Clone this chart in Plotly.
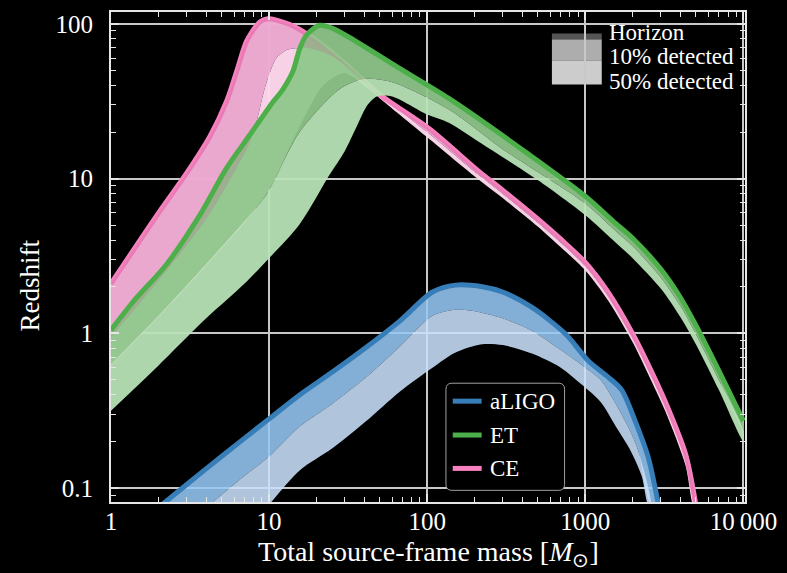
import plotly.graph_objects as go

# ---------------- data ----------------
# aLIGO
aligo_h_m = [2.1, 3, 5, 10, 15.6, 25, 41, 67, 108, 151, 223, 300, 460, 750, 1050, 1400, 1700, 2070, 2500, 2900]
aligo_h_z = [0.078, 0.105, 0.16, 0.28, 0.40, 0.56, 0.81, 1.2, 1.85, 2.05, 2.0, 1.85, 1.47, 0.99, 0.66, 0.52, 0.43, 0.27, 0.158, 0.078]
aligo_10_m = [4.2, 7, 10, 15.6, 25, 41, 67, 108, 150, 192, 300, 460, 700, 940, 1250, 1560, 1900, 2160, 2600]
aligo_10_z = [0.078, 0.12, 0.16, 0.25, 0.35, 0.52, 0.82, 1.3, 1.42, 1.4, 1.25, 1.04, 0.78, 0.63, 0.5, 0.35, 0.24, 0.175, 0.078]
aligo_50_m = [10, 15.6, 25, 41, 67, 108, 150, 222, 300, 460, 700, 940, 1250, 1560, 1900, 2270, 2500]
aligo_50_z = [0.078, 0.13, 0.18, 0.27, 0.42, 0.6, 0.75, 0.85, 0.84, 0.74, 0.6, 0.47, 0.36, 0.25, 0.18, 0.12, 0.078]

# ET
et_h_m = [1, 1.38, 2.25, 3.66, 5.38, 7.56, 10.6, 11.95, 14.1, 15.6, 17.2, 20.9, 25, 32, 66, 137, 441, 1000, 1500, 2000, 3000, 4000, 5000, 7000, 10000]
et_h_z = [1.05, 1.6, 2.8, 5.85, 11.7, 19.2, 31.4, 36.5, 49, 69, 84.5, 98, 94, 82, 52, 33, 14.3, 7.7, 5.3, 4.1, 2.6, 1.7, 1.13, 0.573, 0.272]
et_10_m = [1, 2, 4, 7, 9.7, 15.6, 28, 40, 60, 137, 300, 1000, 1500, 2000, 3000, 4000, 5000, 7000, 10000]
et_10_z = [0.63, 1.3, 2.8, 5.3, 8, 20, 38, 44, 42, 28, 15.5, 6.9, 4.75, 3.65, 2.3, 1.5, 0.99, 0.5, 0.235]
et_50_m = [1, 2, 4, 7, 10, 15.6, 24, 30, 36, 42, 48, 60, 100, 137, 200, 500, 1000, 1500, 2000, 3000, 4000, 5000, 7000, 10000]
et_50_z = [0.316, 0.62, 1.25, 2.1, 3.06, 5.07, 10.5, 15, 22, 30, 34, 34, 26, 23, 18, 9.8, 5.8, 4.0, 3.05, 1.95, 1.27, 0.85, 0.43, 0.2]

# CE
ce_h_m = [1, 2, 3, 4.23, 5.41, 6.26, 7.23, 8.74, 9.8, 12.9, 15.6, 20, 30, 50, 103, 213, 300, 500, 700, 1000, 1400, 2000, 2600, 3222, 4306, 5000]
ce_h_z = [2.1, 6.0, 10.8, 18.8, 32, 50, 78, 103, 108, 101, 92, 78, 56, 35, 21, 11.1, 8.43, 5.49, 4.06, 2.87, 1.83, 0.987, 0.577, 0.357, 0.166, 0.078]
ce_10_m = [1, 2, 4, 6, 7.5, 8.3, 9.5, 11.1, 13, 15.6, 18, 25, 52, 100, 213, 300, 500, 700, 1000, 1400, 2000, 2600, 3222, 4306, 4900]
ce_10_z = [0.95, 2.2, 5.5, 11, 17, 23, 40, 60, 68, 70, 70, 62, 34, 20, 10.5, 8.0, 5.2, 3.85, 2.72, 1.73, 0.93, 0.54, 0.335, 0.155, 0.078]
ce_50_m = [1, 2, 4, 7, 10, 15, 22, 30, 40, 52, 100, 213, 300, 500, 700, 1000, 1400, 2000, 2600, 3222, 4306, 4800]
ce_50_z = [0.62, 1.28, 2.75, 5.2, 8.5, 20, 40, 48, 40, 32, 18.5, 9.8, 7.5, 4.9, 3.6, 2.55, 1.62, 0.87, 0.5, 0.31, 0.14, 0.078]

x_tickvals = [1, 10, 100, 1000, 10000]
x_ticktext = ["1", "10", "100", "1000", "10\u2009000"]
y_tickvals = [0.1, 1, 10, 100]
y_ticktext = ["0.1", "1", "10", "100"]

detectors = ["aLIGO", "ET", "CE"]
line_colors = {"aLIGO": "#377eb8", "ET": "#4daf4a", "CE": "#f781bf"}
band1_colors = {"aLIGO": "rgba(149,199,245,0.88)", "ET": "rgba(142,198,138,0.94)", "CE": "rgba(255,194,232,0.98)"}
band2_colors = {"aLIGO": "rgba(200,224,251,0.88)", "ET": "rgba(185,227,183,0.94)", "CE": "rgba(255,216,236,0.97)"}
ce_overlay = "rgba(190,105,150,0.26)"

curves = {
    "aLIGO": ((aligo_h_m, aligo_h_z), (aligo_10_m, aligo_10_z), (aligo_50_m, aligo_50_z)),
    "ET": ((et_h_m, et_h_z), (et_10_m, et_10_z), (et_50_m, et_50_z)),
    "CE": ((ce_h_m, ce_h_z), (ce_10_m, ce_10_z), (ce_50_m, ce_50_z)),
}

FONT = "Liberation Serif"
W, H = 787, 573
L, R, T, B = 110.7, 40.3, 10, 71.3
PW, PH = W - L - R, H - T - B


def px(x):
    return (x - L) / PW


def py(y):
    return (H - B - y) / PH


fig = go.Figure()


def band(upper, lower, color):
    (mu, zu), (ml, zl) = upper, lower
    fig.add_trace(go.Scatter(
        x=list(mu) + list(ml)[::-1], y=list(zu) + list(zl)[::-1],
        mode="lines", fill="toself", fillcolor=color,
        line=dict(width=0, shape="spline", smoothing=0.8),
        hoverinfo="skip", showlegend=False))


def hline(curve, color):
    m, z = curve
    fig.add_trace(go.Scatter(
        x=m, y=z, mode="lines",
        line=dict(color=color, width=5, shape="spline", smoothing=0.8),
        hoverinfo="skip", showlegend=False))


# CE (bottom layer)
band(curves["CE"][0], curves["CE"][1], band1_colors["CE"])
band(curves["CE"][1], curves["CE"][2], band2_colors["CE"])
hline(curves["CE"][0], line_colors["CE"])
# ET
band(curves["ET"][0], curves["ET"][1], band1_colors["ET"])
band(curves["ET"][1], curves["ET"][2], band2_colors["ET"])
# faint CE tint where the two detectors' bands overlap
band(curves["CE"][0], curves["CE"][1], ce_overlay)
hline(curves["ET"][0], line_colors["ET"])
# aLIGO
band(curves["aLIGO"][0], curves["aLIGO"][1], band1_colors["aLIGO"])
band(curves["aLIGO"][1], curves["aLIGO"][2], band2_colors["aLIGO"])
hline(curves["aLIGO"][0], line_colors["aLIGO"])

# invisible helpers so the mirrored (top / right) axes get drawn
fig.add_trace(go.Scatter(x=[], y=[], xaxis="x2", yaxis="y", showlegend=False, hoverinfo="skip"))
fig.add_trace(go.Scatter(x=[], y=[], xaxis="x", yaxis="y2", showlegend=False, hoverinfo="skip"))

TICKC = "#e6e6e6"
minor_ticks = dict(ticks="inside", ticklen=5, dtick="D1", tickcolor=TICKC, tickwidth=1.2, showgrid=False)
axis_common = dict(
    type="log", showgrid=True, gridcolor="#c8c8c8", gridwidth=2,
    showline=True, linecolor=TICKC, linewidth=2, mirror=True,
    ticks="inside", ticklen=8, tickcolor=TICKC, tickwidth=1.5,
    minor=minor_ticks, zeroline=False,
)
mirror_common = dict(
    type="log", showgrid=False, showline=False, zeroline=False, showticklabels=False,
    ticks="inside", ticklen=8, tickcolor=TICKC, tickwidth=1.5, minor=minor_ticks,
)

XR = [0, 4.01]
YR = [-1.09, 2.077]
fig.update_layout(
    xaxis=dict(range=XR, tickvals=x_tickvals, ticktext=x_ticktext,
               tickfont=dict(family=FONT, size=25, color="white"),
               ticklabelstandoff=-4, **axis_common),
    yaxis=dict(range=YR, tickvals=y_tickvals, ticktext=y_ticktext,
               tickfont=dict(family=FONT, size=25, color="white"),
               ticklabelstandoff=11, **axis_common),
    xaxis2=dict(range=XR, tickvals=x_tickvals, overlaying="x", side="top", anchor="y", **mirror_common),
    yaxis2=dict(range=YR, tickvals=y_tickvals, overlaying="y", side="right", anchor="x", **mirror_common),
)

shapes = []
annotations = []

# axis titles
annotations.append(dict(x=px(428.7), y=py(553), xref="paper", yref="paper", showarrow=False,
                        text="Total source-frame mass [<i>M</i><sub>\u2299</sub>]",
                        font=dict(family=FONT, size=28, color="white"), xanchor="center", yanchor="middle"))
annotations.append(dict(x=px(29), y=py(285), xref="paper", yref="paper", showarrow=False,
                        text="Redshift", textangle=-90,
                        font=dict(family=FONT, size=27, color="white"), xanchor="center", yanchor="middle"))

# top-right legend (horizon / detection levels)
shapes.append(dict(type="rect", xref="paper", yref="paper", x0=px(553), x1=px(603), y0=py(58.3), y1=py(82.7),
                   fillcolor="#cccccc", line=dict(width=0), layer="below"))
shapes.append(dict(type="rect", xref="paper", yref="paper", x0=px(553), x1=px(603), y0=py(37.3), y1=py(58.3),
                   fillcolor="#adadad", line=dict(width=0), layer="below"))
shapes.append(dict(type="rect", xref="paper", yref="paper", x0=px(553), x1=px(603), y0=py(31.7), y1=py(37.3),
                   fillcolor="#555555", line=dict(width=0), layer="below"))
for label, yy in [("Horizon", 31), ("10% detected", 55), ("50% detected", 79.5)]:
    annotations.append(dict(x=px(608), y=py(yy), xref="paper", yref="paper", showarrow=False, text=label,
                            font=dict(family=FONT, size=23, color="white"), xanchor="left", yanchor="middle"))

# detector legend box (rounded)
x0b, x1b, y0b, y1b, rr = 446.7, 565.7, 382.5, 490, 6
path = (f"M {px(x0b+rr)} {py(y0b)} L {px(x1b-rr)} {py(y0b)} Q {px(x1b)} {py(y0b)} {px(x1b)} {py(y0b+rr)} "
        f"L {px(x1b)} {py(y1b-rr)} Q {px(x1b)} {py(y1b)} {px(x1b-rr)} {py(y1b)} "
        f"L {px(x0b+rr)} {py(y1b)} Q {px(x0b)} {py(y1b)} {px(x0b)} {py(y1b-rr)} "
        f"L {px(x0b)} {py(y0b+rr)} Q {px(x0b)} {py(y0b)} {px(x0b+rr)} {py(y0b)} Z")
shapes.append(dict(type="path", xref="paper", yref="paper", path=path, fillcolor="black",
                   line=dict(color="#a0a0a0", width=1), layer="above"))
for det, yy in zip(detectors, [400.5, 434.5, 468]):
    shapes.append(dict(type="line", xref="paper", yref="paper", x0=px(453.5), x1=px(482.5), y0=py(yy), y1=py(yy),
                       line=dict(color=line_colors[det], width=5), layer="above"))
    annotations.append(dict(x=px(489), y=py(yy), xref="paper", yref="paper", showarrow=False, text=det,
                            font=dict(family=FONT, size=23, color="white"), xanchor="left", yanchor="middle"))

fig.update_layout(
    width=W, height=H, margin=dict(l=L, r=R, t=T, b=B),
    paper_bgcolor="black", plot_bgcolor="black",
    shapes=shapes, annotations=annotations, showlegend=False,
    font=dict(family=FONT, color="white"),
)

fig.write_html("out.html", config={"displayModeBar": False},
               post_script="document.body.style.margin='0';document.body.style.background='black';")
